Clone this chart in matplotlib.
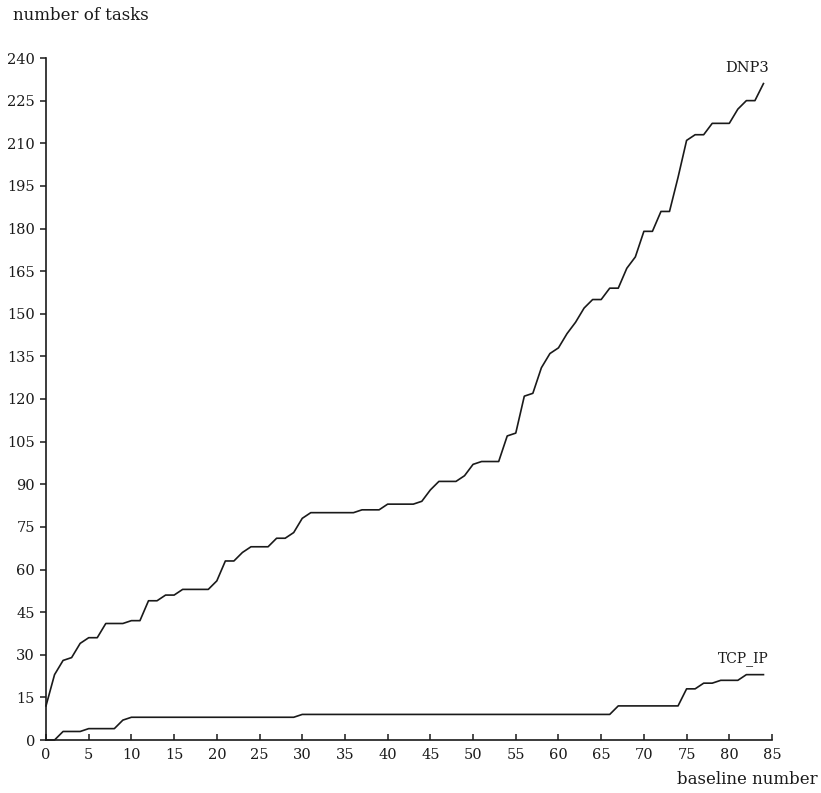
import matplotlib
matplotlib.use("Agg")
import matplotlib.pyplot as plt
import numpy as np

baseline = list(range(0, 85))
dnp3 = [12, 23, 28, 29, 34, 36, 36, 41, 41, 41,
        42, 42, 49, 49, 51, 51, 53, 53, 53, 53,
        56, 63, 63, 66, 68, 68, 68, 71, 71, 73,
        78, 80, 80, 80, 80, 80, 80, 81, 81, 81,
        83, 83, 83, 83, 84, 88, 91, 91, 91, 93,
        97, 98, 98, 98, 107, 108, 121, 122, 131, 136,
        138, 143, 147, 152, 155, 155, 159, 159, 166, 170,
        179, 179, 186, 186, 198, 211, 213, 213, 217, 217,
        217, 222, 225, 225, 231]
tcp_ip = [0, 0, 3, 3, 3, 4, 4, 4, 4, 7,
          8, 8, 8, 8, 8, 8, 8, 8, 8, 8,
          8, 8, 8, 8, 8, 8, 8, 8, 8, 8,
          9, 9, 9, 9, 9, 9, 9, 9, 9, 9,
          9, 9, 9, 9, 9, 9, 9, 9, 9, 9,
          9, 9, 9, 9, 9, 9, 9, 9, 9, 9,
          9, 9, 9, 9, 9, 9, 9, 12, 12, 12,
          12, 12, 12, 12, 12, 18, 18, 20, 20, 21,
          21, 21, 23, 23, 23]
x_ticks = list(range(0, 90, 5))
y_ticks = list(range(0, 255, 15))

plt.rcParams['font.family'] = ['DejaVu Serif']

fig = plt.figure(figsize=(8.21, 7.93), dpi=100)
ax = fig.add_axes([46/821, 1-740/793, (772-46)/821, (740-58)/793])

ax.plot(baseline, dnp3, color='#1a1a1a', lw=1.2, clip_on=False)
ax.plot(baseline, tcp_ip, color='#1a1a1a', lw=1.2, clip_on=False)

ax.set_xlim(0, 85)
ax.set_ylim(0, 240)
ax.set_xticks(x_ticks)
ax.set_yticks(y_ticks)
ax.spines['top'].set_visible(False)
ax.spines['right'].set_visible(False)
for s in ('left', 'bottom'):
    ax.spines[s].set_linewidth(1.2)
    ax.spines[s].set_color('#1a1a1a')
ax.tick_params(axis='x', direction='in', length=4, width=1.1, pad=6, labelsize=10.5, colors='#1a1a1a')
ax.tick_params(axis='y', direction='out', length=4, width=1.1, pad=4, labelsize=10.5, colors='#1a1a1a')

ax.text(84.7, 234, 'DNP3', ha='right', va='bottom', fontsize=10.5, color='#1a1a1a')
ax.text(84.6, 26, 'TCP_IP', ha='right', va='bottom', fontsize=10, color='#1a1a1a')

fig.text(13/821, 1-16/793, 'number of tasks', ha='left', va='center', fontsize=12, color='#1a1a1a')
fig.text(818/821, 1-780/793, 'baseline number', ha='right', va='center', fontsize=12, color='#1a1a1a')

fig.savefig('out.png', dpi=100)
